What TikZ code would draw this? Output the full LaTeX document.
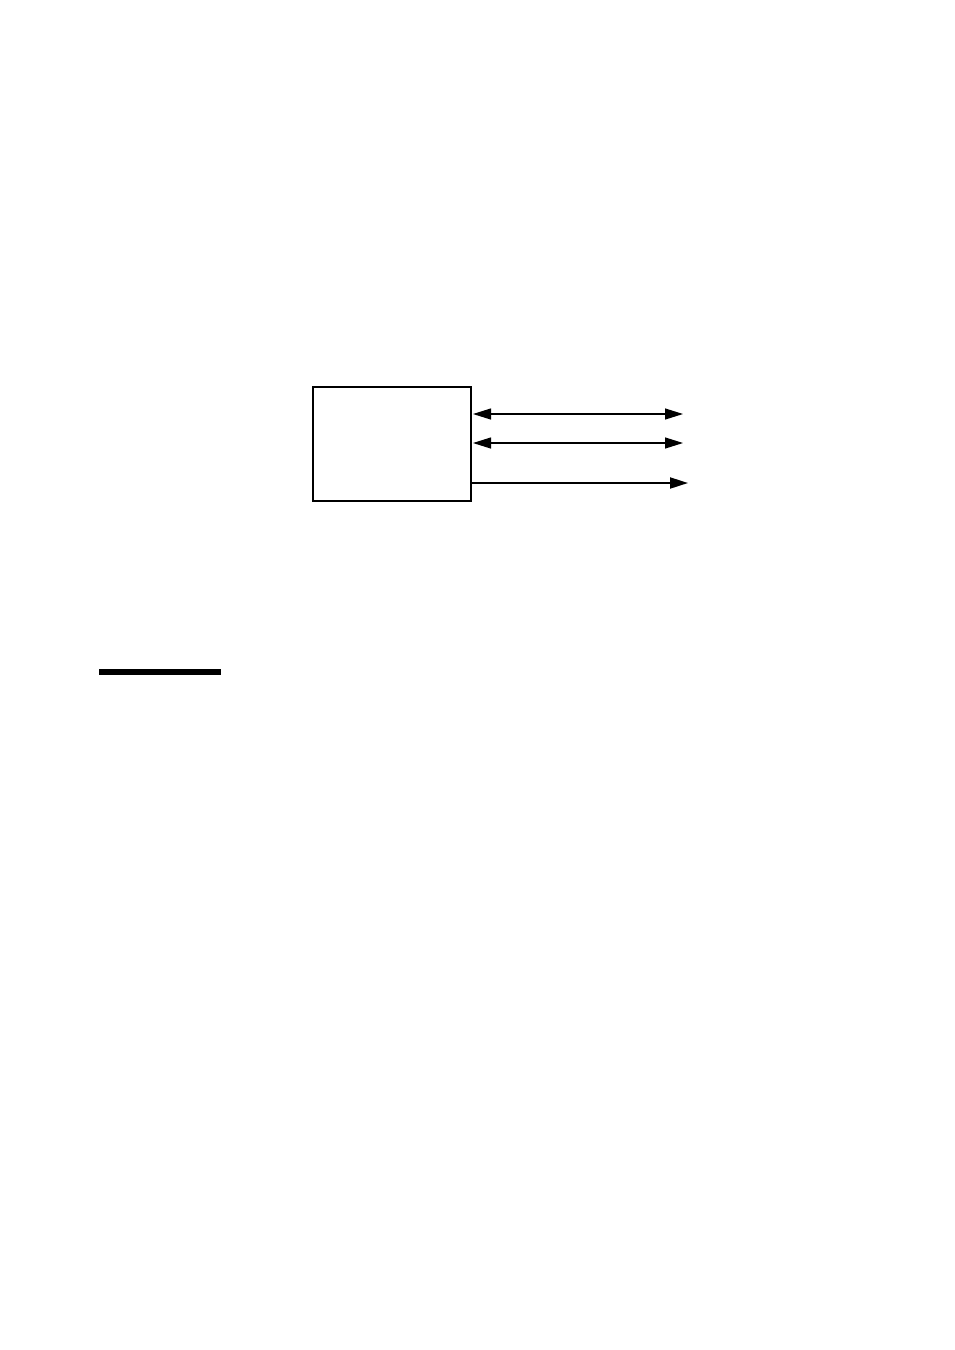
\documentclass[tikz,border=0pt]{standalone}
\usetikzlibrary{arrows.meta}
\begin{document}
\begin{tikzpicture}[x=1pt,y=-1pt,
  boxstyle/.style={draw=black,line width=2pt,minimum width=158pt,minimum height=114pt,inner sep=0pt,anchor=north west},
  thinarrow/.style={line width=1.2pt,{Triangle[length=18pt,width=11pt]}-{Triangle[length=18pt,width=11pt]}},
  thickarrow/.style={line width=2pt,-{Triangle[length=18pt,width=11pt]}},
  barstyle/.style={line width=6pt}]
\useasboundingbox (0,0) rectangle (954,1350);
\node[boxstyle] (box) at (312,386) {};
\coordinate (a1l) at (473,414);
\coordinate (a1r) at (683,414);
\coordinate (a2l) at (473,443);
\coordinate (a2r) at (683,443);
\coordinate (a3l) at (box.east |- 0,483);
\coordinate (a3r) at (688,483);
\draw[thinarrow] (a1l) -- (a1r);
\draw[thinarrow] (a2l) -- (a2r);
\draw[thickarrow] (a3l) -- (a3r);
\coordinate (bl) at (99,672);
\coordinate (br) at (221,672);
\draw[barstyle] (bl) -- (br);
\end{tikzpicture}
\end{document}
